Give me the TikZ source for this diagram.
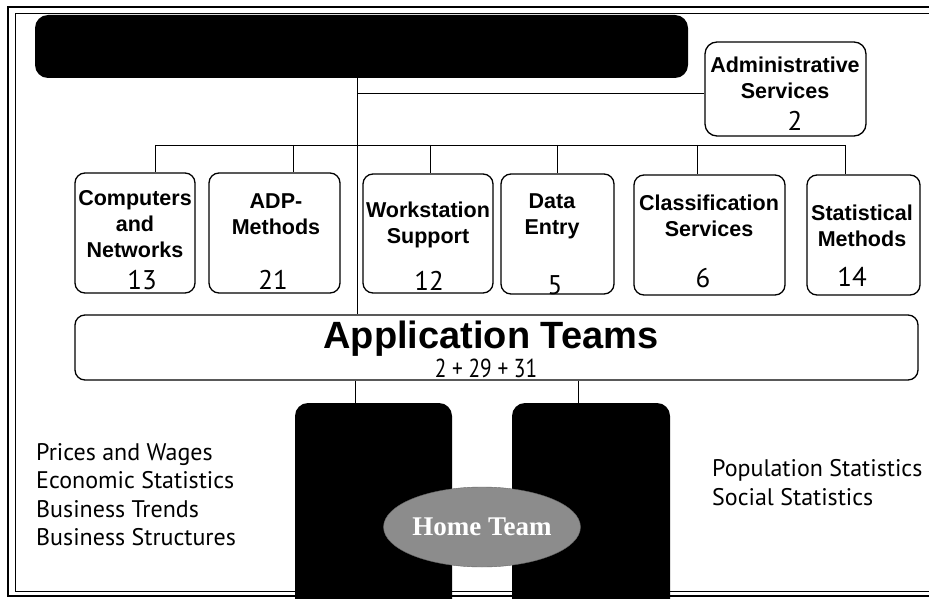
\documentclass[tikz,border=0pt]{standalone}
\usepackage{fontspec}
\setmainfont{Liberation Sans}
\newfontfamily\numfont{PT Sans}
\newfontfamily\homefont{Liberation Serif}
\usetikzlibrary{positioning, shapes.geometric}

\begin{document}
\begin{tikzpicture}[x=1pt, y=-1pt,
	unitbox/.style={draw, line width=1.3pt, rounded corners=10pt, inner sep=0pt},
	darkbox/.style={fill=black, rounded corners=13pt, inner sep=0pt},
	unitname/.style={font=\fontsize{21.5}{26}\selectfont\bfseries, align=center, inner sep=0pt},
	staff/.style={font=\numfont\fontsize{27}{28}\selectfont, inner sep=0pt},
	topics/.style={font=\numfont\fontsize{24}{28.5}\selectfont, align=left, anchor=west, inner sep=0pt},
	link/.style={line width=0.9pt}]
	\useasboundingbox (0,0) rectangle (929,599);
	\clip (0,0) rectangle (929,599);
	% frame
	\draw[line width=1.4pt] (8,7) rectangle (960,596);
	\draw[line width=0.9pt] (15,13) rectangle (960,591);
	%
	\node[darkbox, minimum width=653pt, minimum height=63pt] (title) at (361.5,46.5) {};
	\node[unitbox, rounded corners=12pt, minimum width=161pt, minimum height=94pt] (adm) at (785.5,89) {};
	\node[unitbox, minimum width=120pt, minimum height=120pt] (cn) at (135,233) {};
	\node[unitbox, minimum width=131pt, minimum height=120pt] (adp) at (274.5,233) {};
	\node[unitbox, minimum width=130pt, minimum height=119pt] (ws) at (428,233.5) {};
	\node[unitbox, minimum width=113pt, minimum height=120pt] (de) at (557.5,234) {};
	\node[unitbox, minimum width=151pt, minimum height=120pt] (cs) at (709.5,235) {};
	\node[unitbox, minimum width=113pt, minimum height=120pt] (sm) at (863.5,235) {};
	\node[unitbox, minimum width=843pt, minimum height=65pt] (app) at (496.5,347.5) {};
	\node[darkbox, minimum width=157pt, minimum height=210pt] (teamL) at (373.5,508) {};
	\node[darkbox, minimum width=158pt, minimum height=210pt] (teamR) at (591,508) {};
	%
	\node[unitname] (adm-t) at (785,78) {Administrative\\Services};
	\node[unitname] (cn-t) at (135,224) {Computers\\and\\Networks};
	\node[unitname] (adp-t) at (276,214.5) {ADP-\\Methods};
	\node[unitname] (ws-t) at (428,225) {Workstation\\Support};
	\node[unitname] (de-t) at (552,216.5) {Data\\Entry};
	\node[unitname] (cs-t) at (709,216) {Classification\\Services};
	\node[unitname] (sm-t) at (862,226) {Statistical\\Methods};
	%
	\node[staff] (adm-n) at (795,121) {2};
	\node[staff] (cn-n) at (142,280) {13};
	\node[staff] (adp-n) at (273,280) {21};
	\node[staff] (ws-n) at (429,281) {12};
	\node[staff] (de-n) at (555,285) {5};
	\node[staff] (cs-n) at (703,278) {6};
	\node[staff] (sm-n) at (852,277) {14};
	%
	\node[font=\fontsize{38}{40}\selectfont\bfseries, inner sep=0pt] (app-t) at (491,339) {Application Teams};
	\node[font=\numfont\fontsize{26}{28}\selectfont, inner sep=0pt] (app-n) at (486,368) {\scalebox{0.82}[1]{2 + 29 + 31}};
	%
	\coordinate (trunk) at (357,0);
	\draw[link] (trunk |- title.south) -- (trunk |- app.north);
	\coordinate (adm-in) at (357,93);
	\draw[link] (adm-in) -- (adm-in -| adm.west);
	\foreach \b/\x in {cn/155, adp/293, ws/430, de/557, cs/697, sm/845}{
		\coordinate (d-\b) at (\x,145);
		\draw[link] (d-\b) -- (d-\b |- \b.north);
	}
	\draw[link] (d-cn) -- (d-sm);
	\coordinate (l-left) at (355,0);
	\coordinate (l-right) at (578,0);
	\draw[link] (l-left |- app.south) -- (l-left |- teamL.north);
	\draw[link] (l-right |- app.south) -- (l-right |- teamR.north);
	%
	\node[ellipse, fill=black!45, draw=black!60, minimum width=154pt, minimum height=80pt, inner sep=0pt,
		font=\homefont\fontsize{27}{30}\selectfont\bfseries, text=white] (home) at (482,527) {Home Team};
	%
	\node[topics] (econ) at (36,494.5) {Prices and Wages\\Economic Statistics\\Business Trends\\Business Structures};
	\node[topics] (pop) at (712,482.5) {Population Statistics\\Social Statistics};
\end{tikzpicture}
\end{document}
